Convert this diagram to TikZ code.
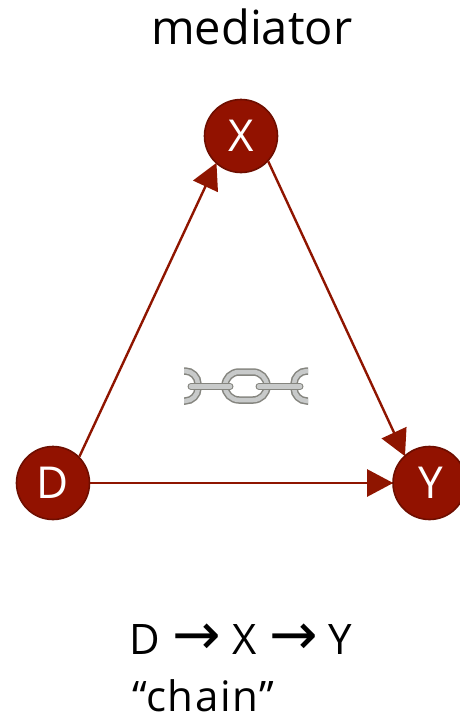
\documentclass[tikz,border=0pt]{standalone}
\usepackage{fontspec}
\setmainfont{Open Sans}
\newfontfamily\arrowfont{DejaVu Sans}
\usetikzlibrary{arrows.meta}
\definecolor{darkred}{HTML}{921200}
\definecolor{rimred}{HTML}{6E0E00}
\definecolor{edgered}{HTML}{8F1500}
\definecolor{chaindark}{HTML}{85857F}
\definecolor{chainlight}{HTML}{C8CACA}
\newcommand{\bigarrow}{{\fontsize{58}{44}\arrowfont →}}
\tikzset{
 var/.style={circle,draw=rimred,fill=darkred,line width=1.6pt,minimum size=73pt,inner sep=0pt,text=white,font=\fontsize{44}{44}\selectfont},
 link/.style={line width=2.4pt,draw=edgered,-{Triangle[length=26pt,width=27pt]},shorten >=-1pt},
 label/.style={inner sep=0pt,text=black,anchor=base west},
 chainout/.style={draw=chaindark,line width=7.5pt,line cap=round},
 chainin/.style={draw=chainlight,line width=4.5pt,line cap=round},
 barout/.style={draw=chaindark,line width=7pt,line cap=round},
 barin/.style={draw=chainlight,line width=4.5pt,line cap=round}
}
\begin{document}
\begin{tikzpicture}[x=1pt,y=-1pt]
\useasboundingbox (0,0) rectangle (459,716);
\node[var] (X) at (241,136) {X};
\node[var] (D) at (53,483) {D};
\node[var] (Y) at (429.5,483) {\hspace{3pt}Y};
\draw[link] (D.45) -- (X.228);
\draw[link] (X.-43) -- (Y.132);
\draw[link] (D) -- (Y);
\begin{scope}
\clip (184,360) rectangle (308,410);
\foreach \s in {chainout,chainin}{
 \draw[\s,rounded corners=13pt] (170,371) rectangle (198,401);
 \draw[\s,rounded corners=13pt] (294,371) rectangle (322,401);
 \draw[\s,rounded corners=14pt] (225,372) rectangle (267,400);
}
\draw[barout] (191,386.5) -- (230,386.5);
\draw[barin] (191,386.5) -- (230,386.5);
\draw[barout] (259,386.5) -- (300,386.5);
\draw[barin] (259,386.5) -- (300,386.5);
\end{scope}
\node[label,font=\fontsize{47}{47}\selectfont] (title) at (151,44) {mediator};
\node[label,font=\fontsize{42}{42}\selectfont] (chainformula) at (129,654) {D\hspace{2pt} \bigarrow{} X\hspace{2pt} \bigarrow{} Y};
\node[label,font=\fontsize{42}{42}\selectfont\addfontfeature{LetterSpace=4}] (chainname) at (132,711) {“chain”};
\end{tikzpicture}
\end{document}
